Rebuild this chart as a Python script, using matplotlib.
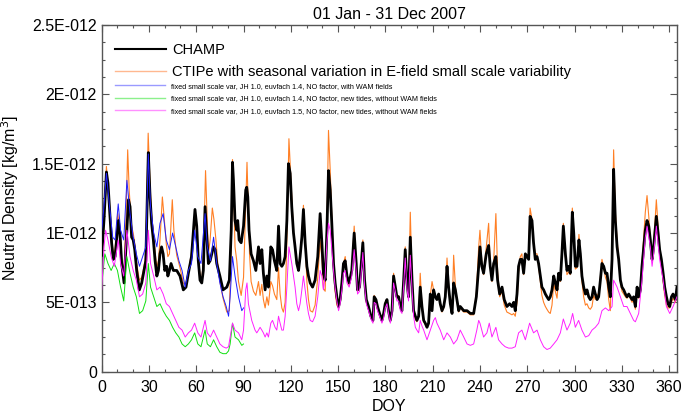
import numpy as np
import matplotlib
matplotlib.use('Agg')
import matplotlib.pyplot as plt
from matplotlib.ticker import MultipleLocator

plt.rcParams['font.family'] = ['Liberation Sans', 'DejaVu Sans']

# values, density in units of 1e-13 kg/m^3
champ_doy = [0, 1.5, 3, 4, 5.3, 6.3, 7.4, 8.5, 9.5, 10.6, 11.6, 12.7, 14.2, 15.4, 17, 18, 19, 20, 21, 22.2,
             23.9, 25.4, 26.9, 28, 29.6, 30.7, 31.7, 32.8, 33.9, 35, 36, 37, 38, 39, 40, 41.2, 42, 43, 44, 45.5,
             47.6, 49.7, 51.8, 53.5, 55, 57, 59.2, 60.3, 61.3, 62.4, 63.5, 64.5, 65.6, 66.7, 67.7, 68.8, 70.9, 72, 73, 75,
             77, 79.4, 81, 82.2, 83, 83.6, 84.6, 85.7, 86.3, 87.2, 88.5, 90, 91.4, 92, 92.7, 93.5, 94.8, 96.3, 97.8, 99.5,
             100.5, 101.6, 102.6, 103.7, 104.8, 105.8, 107.3, 108.4, 109.6, 111.1, 112.2, 113.2, 114.3, 115.3, 116.4, 117.5, 118.5, 119.6, 120.6, 121.7,
             122.7, 123.8, 124.9, 125.9, 127, 128, 129.1, 130.2, 131.2, 132.3, 133.8, 135.4, 137.1, 138.6, 139.7, 140.7, 141.8, 142.9, 143.9, 145,
             146, 147.1, 148.1, 149.2, 150.3, 151.3, 152.4, 153.4, 154.5, 155.6, 157, 158.7, 160.2, 161.5, 162.3, 163.6, 164.7, 165.7, 166.8, 167.9,
             169.3, 170.8, 172.1, 172.9, 174, 175, 176.3, 177.8, 178.9, 179.9, 181, 182, 183.1, 184.2, 185.2, 186.3, 187.3, 188.4, 189.5, 190.5,
             191.6, 192.6, 193.7, 194.7, 195.8, 196.9, 197.9, 199, 200, 201.1, 202.1, 203.2, 204.3, 205.3, 206.4, 207.4, 208.5, 209.6, 210.6, 211.7,
             212.7, 213.8, 214.8, 215.9, 217, 218, 219.1, 220.1, 221.2, 222.3, 223.3, 224.4, 225.4, 226.5, 227.5, 229.7, 231.8, 233.9, 236, 237.7,
             239.2, 240, 241.2, 242.3, 244, 245.5, 246.5, 247.6, 248.7, 250.1, 251.2, 252.5, 254, 255.4, 257.1, 258.8, 260.3, 261.4, 262.4, 263.5,
             264.5, 265.6, 266.6, 267.7, 268.8, 270.9, 271.8, 273, 274, 275.1, 276.2, 277.2, 278.3, 279.3, 280.4, 281.5, 282.5, 283.6, 284.6, 285.7,
             286.8, 287.8, 288.9, 289.9, 291, 292, 292.9, 294.2, 295.2, 296.3, 297.3, 298.6, 299.5, 300.5, 301.6, 302.8, 303.7, 304.7, 305.8, 306.9,
             307.9, 309, 310, 311.1, 312.1, 313.2, 314.3, 315.3, 316.4, 317.4, 318.5, 319.6, 320.6, 321.7, 322.7, 323.8, 324.8, 325.9, 327, 328,
             329.1, 330.1, 331.2, 332.3, 333.3, 334.4, 335.4, 336.5, 337.5, 338.6, 339.7, 340.7, 341.8, 342.8, 343.9, 344.9, 346, 347.1, 348.1, 349.2,
             350.2, 351.9, 353, 354, 355.1, 356.2, 357.2, 358.3, 359.3, 360.4, 361.5, 362.5, 364, 365]
champ_val = [8.4, 11, 14.4, 13.6, 11.2, 9.3, 8.1, 8.3, 9.5, 10.9, 10, 7.8, 6.4, 9, 12.4, 11.9, 9.7, 9.5, 8.8, 7.3,
             5.9, 6.4, 7.3, 8, 15.8, 12.6, 10.7, 9.5, 8, 6.9, 7.3, 8.5, 9, 8.5, 7.3, 7.6, 6.9, 7.3, 7.8, 7.3,
             7.3, 6.9, 5.9, 6.1, 7.1, 8.3, 11.7, 10.5, 8, 6.6, 6.4, 7.3, 11.9, 9.7, 7.8, 8, 9, 8.8, 7.8, 6.9,
             5.9, 6.1, 6.6, 10.2, 15.1, 13.8, 10.9, 10.2, 10.9, 9.5, 9.3, 10.5, 13.1, 13.3, 12.6, 10.2, 8.5, 8, 7.3, 9,
             7.8, 8.8, 7.1, 5.9, 6.9, 6.1, 9, 8.8, 8, 7.3, 10.5, 7.8, 7.6, 7.8, 8.3, 10.9, 15, 14.3, 11.9, 10,
             9, 7.8, 7.3, 8.3, 9.7, 11.7, 9.3, 7.6, 6.9, 6.4, 6.1, 6.6, 8.3, 11.4, 9.3, 7.1, 6.6, 10.2, 14.5, 13.1,
             10.7, 7.8, 6.4, 5.4, 4.7, 5.2, 6.4, 7.8, 8, 6.9, 6.4, 7.3, 10, 7.8, 5.9, 6.1, 7.8, 9.3, 6.6, 5.2,
             4.7, 4, 3.7, 5.4, 5.2, 4.7, 4.2, 3.7, 4.2, 4.9, 5.2, 4.4, 3.7, 4.4, 6.9, 6.1, 5.4, 5.4, 4.7, 4.4,
             6.6, 8.8, 6.4, 5.4, 9.7, 6.6, 4.4, 4, 3.7, 4, 6.1, 4.7, 3.7, 3.5, 3.2, 3.5, 5.6, 4.4, 5.9, 5.4,
             5.2, 5.6, 4.9, 4.4, 4.7, 5.4, 7.6, 6.1, 4.9, 4.2, 6.4, 5.9, 5.2, 4.4, 4.7, 4.4, 4.4, 4.2, 4.2, 5.4,
             7.6, 9, 7.6, 7.1, 8.5, 9.1, 7.6, 6.6, 7.8, 8.3, 6.6, 5.6, 6.1, 5.2, 4.7, 4.9, 4.7, 5, 4.4, 5.6,
             7.6, 8.1, 8.1, 7.1, 8.5, 8.1, 11.2, 10.9, 9.3, 8.1, 8.3, 7.8, 6.9, 6.1, 5.9, 5.6, 5.4, 5.2, 5.4, 5.9,
             6.9, 6.4, 5.9, 7.1, 6.6, 8.5, 10.5, 8.5, 7.3, 7.6, 7.1, 11.5, 10, 7.6, 7.6, 9.5, 8.5, 6.9, 6.1, 5.6,
             5.9, 5.4, 5.2, 5.4, 6.1, 5.6, 5.2, 5.4, 6.6, 7.8, 7.6, 7.1, 7.1, 6.1, 5.4, 8.1, 14.6, 10.9, 9, 8.1,
             6.6, 6.1, 5.9, 5.6, 5.4, 5.6, 5.4, 5.2, 5.4, 4.7, 6.1, 5.4, 5.9, 7.6, 9, 10.2, 10.9, 10.5, 9.5, 8.1,
             9, 11.2, 10, 8.8, 8.1, 7.1, 6.1, 5.4, 4.9, 4.7, 5.4, 5.6, 5.2, 6.1]

ctipe_doy = [0, 1.5, 3, 4, 5.3, 6.3, 7.4, 8.5, 10.2, 11.6, 12.7, 14.2, 15.4, 16.5, 17.5, 19, 20, 21, 22.2, 23.9,
             25.4, 26.9, 28, 29.5, 30.7, 31.7, 32.8, 33.9, 35, 36, 37, 38.5, 39.5, 41, 42, 43, 44.8, 45.8, 47.6, 49.7,
             51.8, 53.5, 55, 57, 59.2, 60.3, 61.3, 62.4, 63.5, 64.5, 65.9, 66.8, 67.7, 68.8, 70.2, 71.2, 72.5, 73.5, 75, 77,
             79.4, 81, 82.2, 83, 83.6, 84.6, 85.7, 86.8, 88.5, 90, 91.4, 92.2, 93, 93.8, 94.8, 96.3, 97.8, 99.5, 100.5, 101.6,
             102.6, 103.7, 104.8, 105.8, 107.3, 108.4, 109.6, 111.1, 112.2, 113.2, 114.3, 115.3, 116.4, 117.5, 118.8, 119.6, 120.6, 121.7, 122.7, 123.8,
             124.9, 125.9, 127, 128, 129.1, 130.2, 131.2, 132.3, 133.8, 135.4, 137.1, 138.6, 139.7, 140.7, 141.8, 142.9, 143.9, 145, 146, 147.1,
             148.1, 149.2, 150.3, 151.3, 152.4, 153.4, 154.5, 155.6, 157, 158.7, 160.2, 161.5, 162.3, 163.6, 164.7, 165.7, 166.8, 167.9, 169.3, 170.8,
             172.1, 172.9, 174, 175, 176.3, 177.8, 178.9, 179.9, 181, 182, 183.1, 184.2, 185.2, 186.3, 187.3, 188.4, 189.5, 190.5, 191.6, 192.6,
             193.7, 194.7, 195.8, 196.9, 197.9, 199, 200, 201.1, 202.1, 203.2, 204.3, 205.3, 206.4, 207.4, 208.5, 209.6, 210.6, 211.7, 212.7, 213.8,
             214.8, 215.9, 217, 218, 219.1, 220.1, 221.2, 222.3, 223.3, 224.4, 225.4, 226.5, 227.5, 229.7, 231.8, 233.9, 236, 237.7, 239.2, 240,
             241.2, 242.3, 244, 245.5, 246.5, 247.6, 248.7, 250.1, 251.2, 252.5, 254, 255.4, 257.1, 258.8, 260.3, 261.4, 262.4, 263.5, 264.5, 265.6,
             266.6, 267.7, 268.8, 270.9, 271.8, 273, 274, 275.1, 276.2, 277.2, 278.3, 279.3, 280.4, 281.5, 282.5, 283.6, 284.6, 285.7, 286.8, 287.8,
             288.9, 289.9, 291, 292, 292.9, 294.2, 295.2, 296.3, 297.3, 298.6, 299.5, 300.5, 301.6, 302.8, 303.7, 304.7, 305.8, 306.9, 307.9, 309,
             310, 311.1, 312.1, 313.2, 314.3, 315.3, 316.4, 317.4, 318.5, 319.6, 320.6, 321.7, 322.7, 323.8, 324.8, 325.9, 327, 328, 329.1, 330.1,
             331.2, 332.3, 333.3, 334.4, 335.4, 336.5, 337.5, 338.6, 339.7, 340.7, 341.8, 342.8, 343.9, 344.9, 346, 347.1, 348.1, 349.2, 350.2, 351.9,
             353, 354, 355.1, 356.2, 357.2, 358.3, 359.3, 360.4, 361.5, 362.5, 364, 365]
ctipe_val = [7.3, 11, 14.8, 13.5, 11.5, 9.6, 8.5, 8.8, 11.4, 10.2, 8.2, 7, 11, 16, 13, 10.5, 10, 9.2, 7.8, 6.6,
             6.8, 7.6, 8.4, 17.2, 13.5, 11.2, 10, 8.6, 7.5, 8, 9.5, 12.6, 11.3, 9.2, 8.3, 8.5, 12.4, 10.2, 8.4, 7.5,
             6.4, 6.2, 7.2, 8.6, 11.2, 10.2, 8.2, 7, 6.5, 8.2, 14.5, 11.5, 8.5, 9.5, 11.8, 11, 9.5, 8, 6.5, 5.3,
             4.3, 4.4, 9, 15.3, 13.5, 9, 8, 6.5, 5.5, 6.8, 12, 15.1, 12, 8.5, 6.5, 5.8, 5.5, 6.5, 5.5, 6.3,
             5.2, 4.6, 5.4, 4.8, 6.5, 6.2, 5.6, 5.2, 7.5, 5.6, 4.6, 4.3, 5, 9.5, 16.8, 15, 12.6, 10, 9, 7.8,
             7.3, 8.2, 9.8, 12, 9.5, 6.5, 5.2, 4.4, 4.3, 4.8, 6.8, 9.5, 8.2, 6, 5.8, 10.5, 17.4, 14.5, 11.2, 7.5,
             5.8, 4.8, 4.6, 5, 6.2, 7.8, 8.3, 6.8, 6.2, 7.4, 10.5, 7.8, 5.8, 6, 7.8, 9.5, 6.5, 5, 4.5, 3.9,
             3.6, 5.5, 5, 4.5, 4.1, 3.6, 4.2, 5, 5.1, 4.3, 3.6, 4.5, 7.1, 6, 5.3, 5.5, 4.6, 4.3, 6.8, 9,
             6.4, 5.5, 11.5, 6.8, 4.3, 3.8, 3.6, 4, 7.1, 4.7, 3.6, 3.4, 3.2, 3.4, 5.5, 6.5, 5.9, 5.4, 5.2, 5.6,
             4.8, 4.3, 4.6, 5.5, 8.2, 6.2, 4.9, 4.2, 8.4, 6.2, 5.1, 4.3, 4.6, 4.3, 4.3, 4.1, 4.1, 5.6, 9, 10.2,
             7.8, 7, 9, 10.7, 7.8, 6.5, 8, 11.4, 7.2, 5.4, 5.8, 4.8, 4.3, 4.2, 4.1, 4.2, 4, 5, 7.2, 8.3,
             8.5, 7, 8.3, 8.5, 11.8, 11, 9.3, 8.5, 8.5, 7.6, 6.5, 5.5, 5, 4.7, 4.5, 4.3, 4.2, 4.8, 6.4, 5.8,
             5.3, 6.8, 6.5, 8.6, 10.7, 8.3, 7, 7.2, 7, 11.8, 10.2, 7.4, 7.5, 9.9, 8.4, 6.5, 5.4, 4.8, 4.9, 4.6,
             4.5, 4.7, 5.5, 5.2, 5.6, 5.4, 6.8, 8.1, 7.5, 6.8, 6.5, 5.2, 4.4, 8.5, 16, 11.5, 9.5, 8.2, 6.5, 5.8,
             5.6, 5.4, 5.3, 5.5, 5.3, 5, 5.2, 4.5, 6, 5.3, 5.8, 7.8, 9.8, 11.5, 12.7, 11.2, 9.5, 8, 9.2, 12.4,
             10.5, 8.8, 7.8, 6.5, 5.5, 4.8, 4.6, 4.6, 5, 5.3, 5, 5.8]

wam_doy = [0, 1.5, 3, 5, 7, 8.5, 10.5, 12, 14, 16, 18, 20, 22, 24, 26, 28, 29.6, 31, 33, 35,
           37, 39, 41, 43, 45, 47, 49, 51, 53, 55, 57, 59, 61, 63, 65.6, 67, 69, 71, 73, 75,
           77, 79, 80.5, 81.5, 83, 84.6, 86.8, 88.9, 90]
wam_val = [10.2, 12, 14.3, 11.9, 9.7, 9.5, 12.1, 10.2, 9.5, 13.8, 11.4, 9.7, 8.5, 7.6, 8.3, 9, 15.7, 11.9, 10, 9,
           10.7, 11.4, 9.5, 8.8, 10, 9, 8, 7.3, 6.1, 7.3, 7.8, 10.2, 8.3, 7.8, 11.4, 9, 8, 9.7, 7.8, 6.4,
           5.4, 4.7, 4, 5.4, 8.3, 6.9, 5.4, 4.4, 4.6]

tides14_doy = [0, 2, 4, 6, 8, 10, 12, 14, 16, 18, 20, 22, 24, 26, 28, 29.6, 31, 33, 35, 37,
               39, 41, 43, 45, 47, 49, 51, 53, 55, 57, 59, 61, 63, 65.6, 67, 69, 71, 73, 75, 77,
               79, 80.5, 81.5, 83, 84.6, 86.8, 88.9, 90]
tides14_val = [6.2, 8.5, 7.8, 7.3, 7.8, 7.3, 6.1, 5.1, 8.3, 7.1, 6.1, 5.4, 4.2, 4.4, 5.1, 7.8, 6.1, 5.4, 4.7, 4.9,
               4.4, 4, 3.7, 3.2, 2.8, 2.5, 2, 1.8, 2, 2.3, 2.8, 2, 1.8, 3, 2, 1.8, 2.3, 1.8, 1.4, 1.3,
               1.3, 1.5, 2, 3.5, 2.5, 2.3, 1.9, 2]

tides15_doy = [0, 1.5, 2.5, 4, 6, 8, 10.5, 12, 14, 16, 18, 20, 22, 24, 26, 28, 29.6, 31, 33, 35,
               37, 39, 41, 43, 45, 47, 49, 51, 53, 55, 57, 59, 61, 63, 65.6, 67, 69, 71, 73, 75,
               77, 79, 80.5, 81.5, 83, 84.6, 86.8, 88.9, 90, 91.4, 92.2, 93.1, 95.2, 97.3, 98.4, 99.5, 100.5, 101.6, 102.6, 103.7,
               104.8, 105.8, 107.3, 108.4, 110, 111.1, 112.2, 113.2, 114.3, 115.3, 116.4, 117.5, 118.8, 120.6, 121.7, 122.7, 123.8, 124.9, 125.9, 127,
               128, 129.1, 130.2, 131.2, 132.3, 133.8, 135.4, 137.1, 138.6, 139.7, 140.7, 141.8, 142.9, 143.9, 145, 146, 147.1, 148.1, 149.2, 150.3,
               151.3, 152.4, 153.4, 154.5, 155.6, 157, 158.7, 160.2, 161.5, 162.3, 163.6, 164.7, 165.7, 166.8, 167.9, 169.3, 170.8, 172.1, 172.9, 174,
               175, 176.3, 177.8, 178.9, 179.9, 181, 182, 183.1, 184.2, 185.2, 186.3, 187.3, 188.4, 189.5, 190.5, 191.6, 192.6, 193.7, 194.7, 195.8,
               196.9, 197.9, 199, 200, 201.1, 202.1, 203.2, 204.3, 206.4, 208.5, 210.6, 211.7, 212.7, 214.8, 217, 219.1, 221.2, 223.3, 225.4, 227.5,
               229.7, 231.8, 233.9, 236, 238, 239.2, 240, 242.3, 244.4, 245.9, 247.6, 250.1, 251.8, 254, 256, 258.2, 260.3, 262.4, 264.5, 266.6,
               268.8, 271.5, 274, 276.2, 278.3, 280.4, 282.5, 284.6, 286.8, 288.9, 291, 292.9, 295.2, 297.3, 298.8, 300.5, 302.6, 304.7, 306.9, 309,
               311.1, 313.2, 315.3, 317.4, 319.6, 321.7, 323.8, 324.8, 327, 329.1, 331.2, 333.3, 335.4, 337.5, 338.6, 340.7, 342.8, 344.9, 346, 348.1,
               349.2, 350.2, 351.9, 354, 356.2, 358.3, 360.4, 362.5, 365]
tides15_val = [5.9, 9, 10.2, 9.5, 8.3, 7.6, 9.5, 7.8, 6.9, 10.2, 8.3, 7.3, 6.6, 5.4, 5.6, 6.4, 10.2, 7.8, 6.9, 5.9,
               6.1, 5.6, 4.9, 4.7, 4.2, 3.7, 3.2, 3, 2.5, 2.8, 3, 3.5, 2.8, 2.5, 3.7, 2.8, 2.5, 3, 2.5, 2,
               1.8, 1.7, 1.8, 2.5, 3.5, 3, 2.8, 2.3, 3, 5.9, 6.4, 4.9, 3.7, 3, 2.8, 3, 3.2, 3, 2.8, 2.5,
               2.8, 2.5, 3.5, 3.7, 3.2, 3, 4, 3.5, 3, 3, 4, 6.1, 9, 7.8, 6.9, 6.1, 4.9, 4.4, 4.9, 5.9,
               6.9, 5.9, 4.9, 4.2, 3.7, 3.6, 4, 5.4, 7.3, 6.9, 5.9, 6.9, 9.3, 10.7, 10.2, 8.8, 7.3, 6.1, 5.1, 4.4,
               4.9, 5.9, 7.1, 7.3, 6.4, 6.1, 6.9, 8.8, 7.2, 5.6, 5.8, 7.2, 8.6, 6.2, 4.9, 4.4, 3.8, 3.5, 5, 4.9,
               4.4, 4, 3.5, 3.9, 4.6, 4.9, 4.2, 3.5, 4.2, 6.4, 5.8, 5.1, 5.1, 4.4, 4.2, 6.2, 8.2, 6, 5.1, 8.4,
               6, 4, 3.2, 3, 2.8, 3.7, 3.3, 3, 2.3, 3, 3.7, 3.9, 3.5, 3, 2.3, 2.8, 2.5, 2, 2.3, 3,
               2.5, 2, 1.9, 2, 3, 3.7, 3.5, 2.5, 2.8, 3.5, 2.5, 3.2, 2.3, 2, 1.8, 1.7, 1.7, 1.8, 2.8, 3,
               2.3, 3.5, 2.8, 3, 2.3, 1.8, 1.6, 1.7, 2, 2.3, 2.8, 3.8, 3, 3.5, 4.2, 3.2, 3.7, 3, 2.5, 2.6,
               3, 3.2, 3.5, 4.4, 4.6, 4.4, 4.7, 6.6, 6.1, 5.4, 4.7, 4.7, 4.2, 3.7, 3.6, 4.2, 6.6, 9.7, 10.5, 9,
               7.6, 8.5, 10.5, 8.1, 6.6, 4.7, 4.2, 4.7, 5.4]

labels = ['CHAMP',
          'CTIPe with seasonal variation in E-field small scale variability',
          'fixed small scale var, JH 1.0, euvfach 1.4, NO factor, with WAM fields',
          'fixed small scale var, JH 1.0, euvfach 1.4, NO factor, new tides, without WAM fields',
          'fixed small scale var, JH 1.0, euvfach 1.5, NO factor, new tides, without WAM fields']
ytick_vals = [0, 5e-13, 1e-12, 1.5e-12, 2e-12, 2.5e-12]
ytick_labels = ['0', '5E-013', '1E-012', '1.5E-012', '2E-012', '2.5E-012']

scale = 1e-13
c_orange, c_blue, c_green, c_magenta = '#ff7f24', '#2020ff', '#10e010', '#ff20ff'
# the legend handles in the original are drawn pale
pale = ['black', '#ffb890', '#9a9aff', '#8cf08c', '#ff90ff']

fig = plt.figure(figsize=(6.81, 4.19), dpi=100)
ax = fig.add_axes([0.1493, 0.1129, 0.8448, 0.8274])

l_ctipe, = ax.plot(ctipe_doy, np.array(ctipe_val) * scale, color=c_orange, lw=0.8, zorder=2)
l_champ, = ax.plot(champ_doy, np.array(champ_val) * scale, color='black', lw=2.0, zorder=3)
l_wam, = ax.plot(wam_doy, np.array(wam_val) * scale, color=c_blue, lw=0.7, zorder=4)
l_t14, = ax.plot(tides14_doy, np.array(tides14_val) * scale, color=c_green, lw=0.7, zorder=4)
l_t15, = ax.plot(tides15_doy, np.array(tides15_val) * scale, color=c_magenta, lw=0.7, zorder=4)

ax.set_xlim(0, 365)
ax.set_ylim(0, 2.5e-12)
ax.xaxis.set_major_locator(MultipleLocator(30))
ax.xaxis.set_minor_locator(MultipleLocator(10))
ax.set_yticks(ytick_vals)
ax.set_yticklabels(ytick_labels)
ax.yaxis.set_minor_locator(MultipleLocator(1.25e-13))
ax.tick_params(which='both', direction='in', top=True, right=True, colors='#555555',
               labelcolor='black', labelsize=11.5)
ax.tick_params(which='major', length=5, width=0.8)
ax.tick_params(which='minor', length=2.5, width=0.8)
ax.tick_params(axis='x', pad=6)
for sp in ax.spines.values():
    sp.set_color('#555555')
    sp.set_linewidth(1.0)

ax.set_xlabel('DOY', fontsize=11.5, labelpad=3)
ax.set_ylabel('Neutral Density [kg/m$^3$]', fontsize=11.5, labelpad=8)
ax.set_title('01 Jan - 31 Dec 2007', fontsize=11.5, pad=4)

# two legends: big entries and small entries
leg1 = ax.legend([l_champ, l_ctipe], labels[:2], loc='upper left', bbox_to_anchor=(0.023, 0.949),
                 frameon=False, fontsize=10.5, handlelength=3.5, handletextpad=0.4,
                 labelspacing=0.6, borderpad=0, borderaxespad=0)
for ln, col, lw in zip(leg1.get_lines(), pale[:2], [1.5, 1.0]):
    ln.set_color(col)
    ln.set_linewidth(lw)
ax.add_artist(leg1)
leg2 = ax.legend([l_wam, l_t14, l_t15], labels[2:], loc='upper left', bbox_to_anchor=(0.023, 0.833),
                 frameon=False, fontsize=5.2, handlelength=7.0, handletextpad=0.8,
                 labelspacing=0.75, borderpad=0, borderaxespad=0)
for ln, col in zip(leg2.get_lines(), pale[2:]):
    ln.set_color(col)
    ln.set_linewidth(1.0)

fig.savefig('out.png', dpi=100)
